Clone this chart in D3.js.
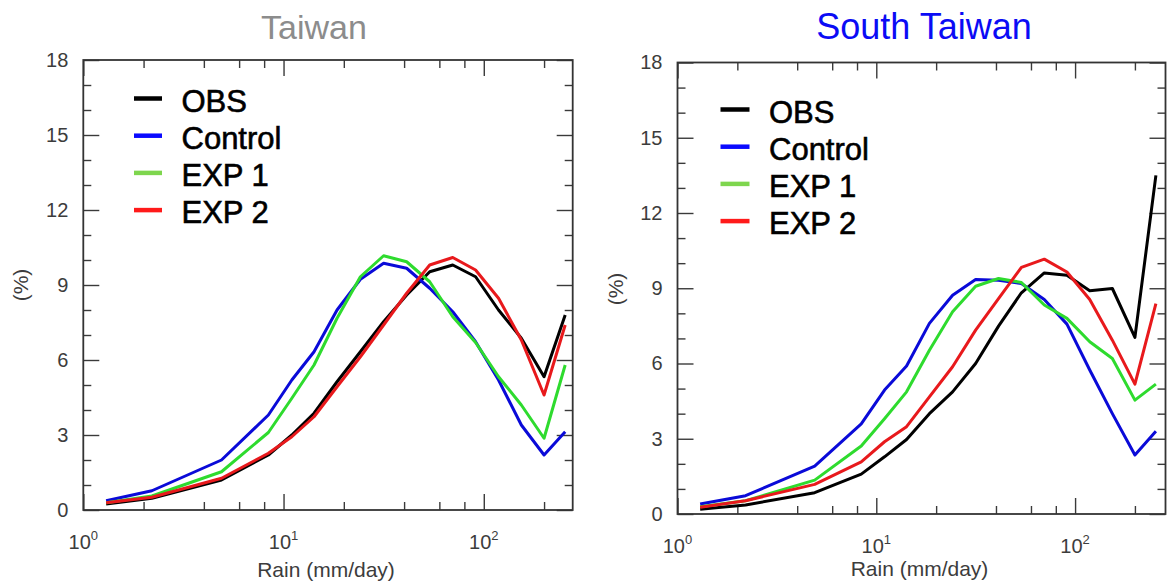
<!DOCTYPE html>
<html>
<head>
<meta charset="utf-8">
<script src="https://cdn.jsdelivr.net/npm/d3@7"></script>
<style>
  html, body { margin: 0; padding: 0; background: #fff; }
  svg { display: block; font-family: "Liberation Sans", Arial, Helvetica, sans-serif; }
</style>
</head>
<body>
<svg id="chart" width="1172" height="584"></svg>
<script>
// Rain-rate bin centres (mm/day)
const rainBins = [1.3, 2.2, 4.9, 8.4, 11, 14.2, 18.5, 24.2, 31.6, 41.2, 53.7, 70, 91, 118.5, 154, 200, 255];

// Frequency (%) per bin — Taiwan
const taiwanObs     = [0.24, 0.47, 1.2, 2.2, 3.0, 3.87, 5.13, 6.33, 7.53, 8.6, 9.53, 9.8, 9.33, 8.0, 6.87, 5.33, 7.8];
const taiwanControl = [0.37, 0.77, 2.0, 3.8, 5.2, 6.33, 8.0, 9.23, 9.87, 9.67, 8.87, 7.93, 6.73, 5.2, 3.4, 2.2, 3.13];
const taiwanExp1    = [0.29, 0.56, 1.53, 3.1, 4.47, 5.8, 7.67, 9.33, 10.17, 9.93, 9.13, 7.73, 6.7, 5.33, 4.2, 2.87, 5.8];
const taiwanExp2    = [0.29, 0.51, 1.27, 2.27, 2.93, 3.73, 4.93, 6.13, 7.4, 8.67, 9.8, 10.1, 9.6, 8.47, 6.8, 4.6, 7.4];

// Frequency (%) per bin — South Taiwan
const southObs     = [0.19, 0.36, 0.85, 1.59, 2.28, 2.97, 4.0, 4.87, 6.0, 7.49, 8.82, 9.61, 9.52, 8.9, 8.99, 7.04, 13.5];
const southControl = [0.40, 0.73, 1.91, 3.59, 4.94, 5.9, 7.6, 8.72, 9.35, 9.32, 9.19, 8.55, 7.57, 5.74, 4.0, 2.35, 3.3];
const southExp1    = [0.29, 0.53, 1.35, 2.71, 3.8, 4.87, 6.53, 8.06, 9.08, 9.39, 9.23, 8.33, 7.8, 6.87, 6.2, 4.54, 5.18];
const southExp2    = [0.27, 0.53, 1.18, 2.08, 2.88, 3.48, 4.67, 5.87, 7.33, 8.59, 9.83, 10.16, 9.65, 8.55, 6.93, 5.18, 8.39];

const seriesNames = ["OBS", "Control", "EXP 1", "EXP 2"];
const yTicks = [0, 3, 6, 9, 12, 15, 18];
const yMinorTicks = d3.range(0, 19, 1);
const xMajorTicks = [1, 10, 100];
const xMinorTicks = [2, 4, 6, 8, 20, 40, 60, 80, 200];
const xTickExponents = ["0", "1", "2"];

// Drawing styles
const lineColors   = ["#000000", "#0a0ad8", "#2edb2e", "#e8191c"];
const legendColors = ["#000000", "#0a0aff", "#7ed64e", "#ff1a1a"];

const svg = d3.select("#chart");

const panels = [
  { title: "Taiwan", titleColor: "#8c8c8c", titleSize: 34, titleX: 314,
    box: { left: 83.3, right: 572.7, top: 60, bottom: 510 }, xMax: 278,
    series: [taiwanObs, taiwanControl, taiwanExp1, taiwanExp2],
    legend: { x0: 134, x1: 162, tx: 181.5, y0: 98.5, dy: 37.2 },
    yTitle: { x: 20.5, y: 285 }, xTitleY: 577 },
  { title: "South Taiwan", titleColor: "#0b0bf5", titleSize: 36, titleX: 924,
    box: { left: 677.5, right: 1165.5, top: 62.5, bottom: 514 }, xMax: 285,
    series: [southObs, southControl, southExp1, southExp2],
    legend: { x0: 720.5, x1: 749.5, tx: 769, y0: 109.5, dy: 37.2 },
    yTitle: { x: 615.5, y: 289 }, xTitleY: 576 }
];

panels.forEach(p => {
  const b = p.box;
  const x = d3.scaleLog().domain([1, p.xMax]).range([b.left, b.right]);
  const y = d3.scaleLinear().domain([0, 18]).range([b.bottom, b.top]);
  const g = svg.append("g");

  // Title
  g.append("text")
    .attr("x", p.titleX).attr("y", 39)
    .attr("text-anchor", "middle")
    .attr("font-size", p.titleSize)
    .attr("fill", p.titleColor)
    .text(p.title);

  const tickStyle = sel => {
    sel.select(".domain").remove();
    sel.selectAll(".tick line").attr("stroke", "#3a3a3a").attr("stroke-width", 1.4);
  };

  // Inward ticks on all four sides
  g.append("g").attr("transform", `translate(0,${b.bottom})`)
    .call(d3.axisBottom(x).tickValues(xMajorTicks).tickSize(-16).tickFormat(""))
    .call(tickStyle);
  g.append("g").attr("transform", `translate(0,${b.bottom})`)
    .call(d3.axisBottom(x).tickValues(xMinorTicks).tickSize(-8).tickFormat(""))
    .call(tickStyle);
  g.append("g").attr("transform", `translate(0,${b.top})`)
    .call(d3.axisTop(x).tickValues(xMajorTicks).tickSize(-16).tickFormat(""))
    .call(tickStyle);
  g.append("g").attr("transform", `translate(0,${b.top})`)
    .call(d3.axisTop(x).tickValues(xMinorTicks).tickSize(-8).tickFormat(""))
    .call(tickStyle);

  const yMinor = yMinorTicks.filter(v => !yTicks.includes(v));
  g.append("g").attr("transform", `translate(${b.left},0)`)
    .call(d3.axisLeft(y).tickValues(yTicks).tickSize(-16).tickPadding(15).tickFormat(d3.format("d")))
    .call(tickStyle)
    .call(s => s.selectAll(".tick text")
      .attr("font-size", 20).attr("fill", "#3c3c3c")
      .attr("font-family", "Liberation Sans, Arial, sans-serif"));
  g.append("g").attr("transform", `translate(${b.left},0)`)
    .call(d3.axisLeft(y).tickValues(yMinor).tickSize(-8).tickFormat(""))
    .call(tickStyle);
  g.append("g").attr("transform", `translate(${b.right},0)`)
    .call(d3.axisRight(y).tickValues(yTicks).tickSize(-16).tickFormat(""))
    .call(tickStyle);
  g.append("g").attr("transform", `translate(${b.right},0)`)
    .call(d3.axisRight(y).tickValues(yMinor).tickSize(-8).tickFormat(""))
    .call(tickStyle);

  // Power-of-ten labels
  const lbl = g.selectAll(".xlab").data(xMajorTicks).join("text")
    .attr("class", "xlab")
    .attr("x", d => x(d)).attr("y", b.bottom + 39)
    .attr("text-anchor", "middle")
    .attr("font-size", 20).attr("fill", "#3c3c3c");
  lbl.append("tspan").text("10");
  lbl.append("tspan").attr("dy", -9).attr("font-size", 13)
    .text((d, i) => xTickExponents[i]);

  // Axis titles
  g.append("text")
    .attr("x", (b.left + b.right) / 2 - 2).attr("y", p.xTitleY)
    .attr("text-anchor", "middle").attr("font-size", 21).attr("fill", "#3c3c3c")
    .text("Rain (mm/day)");
  g.append("text")
    .attr("transform", `translate(${p.yTitle.x},${p.yTitle.y}) rotate(-90)`)
    .attr("text-anchor", "middle").attr("dy", "0.35em")
    .attr("font-size", 21).attr("fill", "#3c3c3c")
    .text("(%)");

  // Curves
  const line = d3.line().x(d => x(d[0])).y(d => y(d[1]));
  p.series.forEach((vals, i) => {
    g.append("path")
      .datum(rainBins.map((r, k) => [r, vals[k]]))
      .attr("d", line)
      .attr("fill", "none")
      .attr("stroke", lineColors[i])
      .attr("stroke-width", 3)
      .attr("stroke-linejoin", "round");
  });

  // Frame
  g.append("rect")
    .attr("x", b.left).attr("y", b.top)
    .attr("width", b.right - b.left).attr("height", b.bottom - b.top)
    .attr("fill", "none").attr("stroke", "#333").attr("stroke-width", 1.8);

  // Legend
  const L = p.legend;
  const leg = g.selectAll(".leg").data(seriesNames).join("g").attr("class", "leg")
    .attr("transform", (d, i) => `translate(0,${L.y0 + i * L.dy})`);
  leg.append("line")
    .attr("x1", L.x0).attr("x2", L.x1).attr("y1", 0).attr("y2", 0)
    .attr("stroke", (d, i) => legendColors[i]).attr("stroke-width", 4.5);
  leg.append("text")
    .attr("x", L.tx).attr("y", 13)
    .attr("font-size", 31).attr("fill", "#000")
    .attr("stroke", "#000").attr("stroke-width", 0.6)
    .text(d => d);
});
</script>
</body>
</html>
